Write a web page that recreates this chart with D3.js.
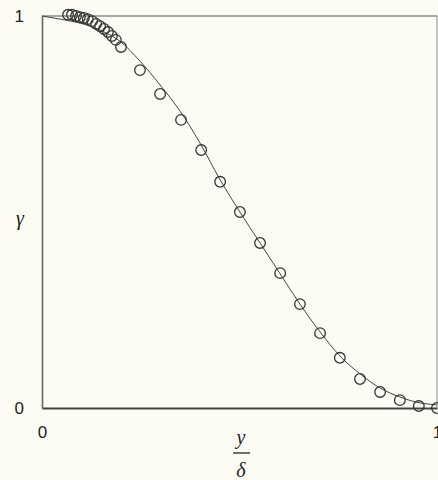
<!DOCTYPE html>
<html>
<head>
<meta charset="utf-8">
<script src="https://cdn.jsdelivr.net/npm/d3@7"></script>
<style>
html,body{margin:0;padding:0;background:#fcfcf5;}
svg{display:block;}
</style>
</head>
<body>
<svg id="chart" width="438" height="480"></svg>
<script>
// Fitted curve
const curveX = [0, 0.046, 0.096, 0.147, 0.197, 0.248, 0.299, 0.349, 0.400, 0.451, 0.501, 0.552, 0.603, 0.653, 0.704, 0.754, 0.805, 0.856, 0.906, 0.957, 1.0];
const curveY = [1.0, 0.992, 0.982, 0.964, 0.936, 0.885, 0.824, 0.758, 0.676, 0.582, 0.5, 0.421, 0.342, 0.265, 0.194, 0.133, 0.087, 0.051, 0.028, 0.013, 0.008];
// Measured points
const pointX = [0.066, 0.076, 0.086, 0.096, 0.106, 0.116, 0.127, 0.137, 0.147, 0.157, 0.167, 0.177, 0.187, 0.2, 0.248, 0.299, 0.352, 0.403, 0.451, 0.501, 0.552, 0.603, 0.653, 0.704, 0.754, 0.805, 0.856, 0.906, 0.954, 1.0];
const pointY = [1.003, 1.003, 1.0, 0.997, 0.995, 0.992, 0.987, 0.980, 0.974, 0.967, 0.959, 0.949, 0.939, 0.921, 0.862, 0.801, 0.735, 0.658, 0.577, 0.5, 0.421, 0.344, 0.265, 0.191, 0.128, 0.074, 0.041, 0.020, 0.005, 0.0];
const xTicks = [0, 1];
const yTicks = [0, 1];

const svg = d3.select("#chart");
const x = d3.scaleLinear().domain([0, 1]).range([42, 437]);
const y = d3.scaleLinear().domain([0, 1]).range([408, 16]);

// frame: top & right thin
svg.append("line").attr("x1", x(0)).attr("x2", x(1)).attr("y1", y(1)).attr("y2", y(1))
  .attr("stroke", "#555").attr("stroke-width", 1.2);
svg.append("line").attr("x1", x(1)).attr("x2", x(1)).attr("y1", y(1)).attr("y2", y(0))
  .attr("stroke", "#888").attr("stroke-width", 1);

// axes via d3
const xAxis = svg.append("g").attr("transform", `translate(0,${y(0)})`)
  .call(d3.axisBottom(x).tickValues(xTicks).tickSize(0).tickPadding(18).tickFormat(d3.format("d")));
const yAxis = svg.append("g").attr("transform", `translate(${x(0)},0)`)
  .call(d3.axisLeft(y).tickValues(yTicks).tickSize(0).tickPadding(18).tickFormat(d3.format("d")));
xAxis.select(".domain").attr("stroke", "#444").attr("stroke-width", 2);
yAxis.select(".domain").attr("stroke", "#666").attr("stroke-width", 1.6);
[xAxis, yAxis].forEach(g => g.selectAll("text")
  .attr("font-family", "Liberation Sans, Arial, sans-serif")
  .attr("font-size", 17).attr("fill", "#222"));

// curve
const line = d3.line().x(d => x(d[0])).y(d => y(d[1])).curve(d3.curveMonotoneX);
svg.append("path").datum(curveX.map((v, i) => [v, curveY[i]]))
  .attr("d", line).attr("fill", "none").attr("stroke", "#444").attr("stroke-width", 1);

// points
svg.append("g").selectAll("circle").data(pointX.map((v, i) => [v, pointY[i]]))
  .join("circle")
  .attr("cx", d => x(d[0])).attr("cy", d => y(d[1])).attr("r", 5.3)
  .attr("fill", "none").attr("stroke", "#333").attr("stroke-width", 1.3);

// axis labels
svg.append("text").attr("x", 20).attr("y", 225).attr("text-anchor", "middle")
  .attr("font-family", "Liberation Serif, serif").attr("font-style", "italic")
  .attr("font-size", 20).attr("fill", "#222").text("γ");
svg.append("text").attr("x", 241).attr("y", 444).attr("text-anchor", "middle")
  .attr("font-family", "Liberation Serif, serif").attr("font-style", "italic")
  .attr("font-size", 20).attr("fill", "#222").text("y");
svg.append("line").attr("x1", 233).attr("x2", 250).attr("y1", 453).attr("y2", 453)
  .attr("stroke", "#222").attr("stroke-width", 1.3);
svg.append("text").attr("x", 241).attr("y", 477).attr("text-anchor", "middle")
  .attr("font-family", "Liberation Serif, serif").attr("font-style", "italic")
  .attr("font-size", 20).attr("fill", "#222").text("δ");
</script>
</body>
</html>
